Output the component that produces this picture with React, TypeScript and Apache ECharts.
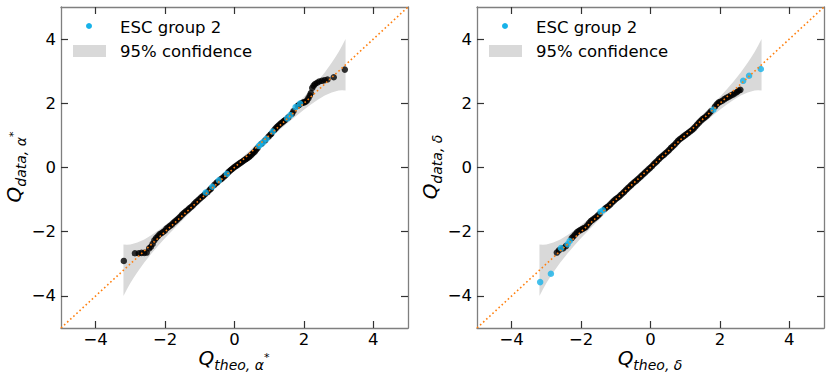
import React, { useEffect, useRef } from "react";
import * as echarts from "echarts";

const tickValues = [-4, -2, 0, 2, 4];
const diagonal = [[-5, -5], [5, 5]];

const bandX = [-3.2, -3.1, -3.0, -2.9, -2.8, -2.6, -2.4, -2.2, -2.0, -1.6, -1.2, -0.8, -0.4, 0, 0.4, 0.8, 1.2, 1.6, 2.0, 2.2, 2.4, 2.6, 2.8, 2.9, 3.0, 3.1, 3.2];
const bandUpper = [-2.4, -2.41, -2.4, -2.37, -2.34, -2.24, -2.11, -1.96, -1.8, -1.45, -1.08, -0.7, -0.31, 0.09, 0.49, 0.9, 1.32, 1.75, 2.2, 2.44, 2.69, 2.96, 3.26, 3.43, 3.6, 3.79, 4.0];
const bandLower = [-4.0, -3.79, -3.6, -3.43, -3.26, -2.96, -2.69, -2.44, -2.2, -1.75, -1.32, -0.9, -0.49, -0.09, 0.31, 0.7, 1.08, 1.45, 1.8, 1.96, 2.11, 2.24, 2.34, 2.37, 2.4, 2.41, 2.4];

const alphaBlack = [
  [-3.19, -2.91], [-2.87, -2.67], [-2.76, -2.67], [-2.68, -2.66], [-2.6, -2.66], [-2.53, -2.65], [-2.46, -2.52],
  [-2.41, -2.47], [-2.36, -2.38], [-2.31, -2.27], [-2.26, -2.2], [-2.21, -2.14], [-2.16, -2.08], [-2.11, -2.05],
  [-2.06, -2.01], [-2.01, -1.97], [-1.96, -1.9], [-1.91, -1.86], [-1.86, -1.82], [-1.81, -1.78], [-1.76, -1.72],
  [-1.71, -1.68], [-1.66, -1.63], [-1.61, -1.58], [-1.56, -1.53], [-1.51, -1.47], [-1.46, -1.42], [-1.41, -1.37],
  [-1.36, -1.33], [-1.31, -1.28], [-1.26, -1.24], [-1.21, -1.19], [-1.16, -1.13], [-1.11, -1.08], [-1.06, -1.03],
  [-1.01, -0.98], [-0.96, -0.93], [-0.91, -0.89], [-0.86, -0.84], [-0.78, -0.77], [-0.72, -0.7], [-0.68, -0.66],
  [-0.58, -0.54], [-0.52, -0.48], [-0.49, -0.45], [-0.4, -0.37], [-0.35, -0.33], [-0.3, -0.28], [-0.26, -0.24],
  [-0.18, -0.15], [-0.14, -0.11], [-0.1, -0.07], [-0.06, -0.04], [-0.02, 0.0], [0.02, 0.03], [0.06, 0.06],
  [0.1, 0.09], [0.14, 0.12], [0.18, 0.15], [0.22, 0.18], [0.26, 0.21], [0.3, 0.24], [0.34, 0.27], [0.38, 0.3],
  [0.42, 0.33], [0.46, 0.37], [0.5, 0.41], [0.54, 0.45], [0.58, 0.49], [0.62, 0.55], [0.66, 0.6], [0.78, 0.74],
  [0.88, 0.84], [0.98, 0.96], [1.03, 1.02], [1.06, 1.05], [1.14, 1.16], [1.18, 1.21], [1.22, 1.26], [1.26, 1.3],
  [1.3, 1.34], [1.34, 1.38], [1.38, 1.41], [1.42, 1.45], [1.46, 1.48], [1.55, 1.56], [1.66, 1.68], [1.7, 1.76],
  [1.82, 1.92], [1.86, 1.95], [1.93, 2.0], [1.97, 2.02], [2.01, 2.03], [2.05, 2.05], [2.09, 2.09], [2.13, 2.16],
  [2.17, 2.24], [2.2, 2.32], [2.24, 2.48], [2.28, 2.55], [2.32, 2.6], [2.38, 2.64], [2.44, 2.68], [2.52, 2.7],
  [2.6, 2.72], [2.68, 2.74], [2.86, 2.81], [3.18, 3.05],
];
const alphaBlue = [
  [-0.83, -0.78], [-0.64, -0.6], [-0.45, -0.4], [-0.22, -0.2], [0.7, 0.67], [0.75, 0.72], [0.83, 0.79],
  [0.92, 0.89], [1.1, 1.12], [1.52, 1.53], [1.61, 1.63], [1.76, 1.88], [1.89, 1.99],
];

const deltaBlack = [
  [-2.7, -2.65], [-2.64, -2.58], [-2.52, -2.52], [-2.44, -2.45], [-2.27, -2.2], [-2.22, -2.14], [-2.17, -2.08],
  [-2.12, -2.02], [-2.07, -1.98], [-2.02, -1.95], [-1.97, -1.92], [-1.92, -1.89], [-1.87, -1.86], [-1.82, -1.8],
  [-1.77, -1.73], [-1.72, -1.67], [-1.67, -1.63], [-1.62, -1.59], [-1.57, -1.55], [-1.52, -1.5], [-1.47, -1.45],
  [-1.31, -1.28], [-1.26, -1.24], [-1.21, -1.2], [-1.16, -1.15], [-1.11, -1.09], [-1.06, -1.04], [-1.01, -0.99],
  [-0.96, -0.95], [-0.91, -0.91], [-0.86, -0.86], [-0.81, -0.81], [-0.76, -0.76], [-0.71, -0.7], [-0.66, -0.65],
  [-0.61, -0.6], [-0.56, -0.55], [-0.51, -0.5], [-0.46, -0.45], [-0.41, -0.41], [-0.36, -0.36], [-0.31, -0.31],
  [-0.26, -0.26], [-0.21, -0.21], [-0.16, -0.16], [-0.11, -0.11], [-0.06, -0.06], [-0.01, -0.01], [0.04, 0.04],
  [0.09, 0.1], [0.14, 0.15], [0.19, 0.2], [0.24, 0.26], [0.29, 0.31], [0.34, 0.36], [0.39, 0.4], [0.44, 0.45],
  [0.49, 0.5], [0.54, 0.55], [0.59, 0.61], [0.64, 0.66], [0.69, 0.71], [0.74, 0.77], [0.79, 0.83], [0.84, 0.88],
  [0.89, 0.92], [0.94, 0.96], [0.99, 1.0], [1.04, 1.04], [1.09, 1.08], [1.14, 1.12], [1.19, 1.16], [1.24, 1.21],
  [1.29, 1.27], [1.34, 1.33], [1.39, 1.39], [1.44, 1.45], [1.49, 1.5], [1.54, 1.54], [1.59, 1.58], [1.64, 1.63],
  [1.69, 1.69], [1.74, 1.75], [1.86, 1.9], [1.91, 1.97], [1.96, 2.02], [2.01, 2.05], [2.07, 2.08], [2.13, 2.13],
  [2.19, 2.17], [2.25, 2.2], [2.31, 2.24], [2.37, 2.27], [2.43, 2.31], [2.49, 2.35], [2.54, 2.39], [2.59, 2.42],
];
const deltaBlue = [
  [-3.18, -3.57], [-2.87, -3.31], [-2.58, -2.51], [-2.39, -2.39], [-2.33, -2.29], [-1.44, -1.38], [-1.37, -1.33],
  [1.81, 1.8], [2.67, 2.7], [2.84, 2.86], [3.18, 3.07],
];

const FAMILY = "DejaVu Sans";
const BLUE = "#17b2e9";
const BAND = "#d9d9d9";
const TXT = 16.5;

function measure(text: string, size: number, italic: boolean): number {
  const c = document.createElement("canvas").getContext("2d");
  if (!c) return text.length * size * 0.6;
  c.font = `${italic ? "italic " : ""}${size}px "${FAMILY}"`;
  return c.measureText(text).width;
}

function mathLabel(sub: string, cx: number, cy: number, rotated: boolean, star: boolean) {
  const parts = [
    { t: "Q", s: 20, dy: 0 },
    { t: sub, s: 14, dy: 7 },
  ];
  if (star) parts.push({ t: "*", s: 11, dy: -1 });
  const widths = parts.map((p) => measure(p.t, p.s, true));
  const total = widths.reduce((a, b) => a + b, 0);
  let x = -total / 2;
  const children = parts.map((p, i) => {
    const el = {
      type: "text",
      x,
      y: p.dy,
      style: {
        text: p.t,
        fontSize: p.s,
        fontFamily: FAMILY,
        fontStyle: "italic",
        fill: "#000",
        align: "left",
        verticalAlign: "middle",
      },
    };
    x += widths[i];
    return el;
  });
  return { type: "group", x: cx, y: cy, rotation: rotated ? Math.PI / 2 : 0, children };
}

function legend(x0: number) {
  const ts = { fontSize: TXT, fontFamily: FAMILY, fill: "#000", align: "left", verticalAlign: "middle" };
  return [
    { type: "circle", shape: { cx: x0 + 16, cy: 26, r: 3 }, style: { fill: BLUE } },
    { type: "rect", shape: { x: x0, y: 45, width: 33, height: 12 }, style: { fill: BAND } },
    { type: "text", x: x0 + 47, y: 27, style: { ...ts, text: "ESC group 2" } },
    { type: "text", x: x0 + 47, y: 51, style: { ...ts, text: "95% confidence" } },
  ];
}

const lineStyleAxis = { color: "#7f7f7f", width: 1.3 };
const lineStyleTick = { color: "#333", width: 1.2 };
const fmt = (v: number) => (v < 0 ? "\u2212" + Math.abs(v) : String(v));

function xAxes(gridIndex: number) {
  const base = {
    type: "value", gridIndex, min: -5, max: 5,
    axisLine: { show: true, onZero: false, lineStyle: lineStyleAxis },
    axisTick: { show: true, inside: true, length: 7, customValues: tickValues, lineStyle: lineStyleTick },
    splitLine: { show: false },
  };
  return [
    { ...base, position: "bottom", axisLabel: { show: true, customValues: tickValues, formatter: fmt, fontSize: TXT, fontFamily: FAMILY, color: "#000", margin: 3 } },
    { ...base, position: "top", axisLabel: { show: false } },
  ];
}
function yAxes(gridIndex: number) {
  const base = {
    type: "value", gridIndex, min: -5, max: 5,
    axisLine: { show: true, onZero: false, lineStyle: lineStyleAxis },
    axisTick: { show: true, inside: true, length: 7, customValues: tickValues, lineStyle: lineStyleTick },
    splitLine: { show: false },
  };
  return [
    { ...base, position: "left", axisLabel: { show: true, customValues: tickValues, formatter: fmt, fontSize: TXT, fontFamily: FAMILY, color: "#000", margin: 5 } },
    { ...base, position: "right", axisLabel: { show: false } },
  ];
}

function panelSeries(axisIdx: number, black: number[][], blue: number[][]) {
  return [
    {
      type: "custom", xAxisIndex: axisIdx, yAxisIndex: axisIdx, data: [[0, 0]], z: 1, silent: true,
      renderItem: (_p: any, api: any) => {
        const pts: number[][] = bandX.map((x, i) => api.coord([x, bandUpper[i]]));
        for (let i = bandX.length - 1; i >= 0; i--) pts.push(api.coord([bandX[i], bandLower[i]]));
        return { type: "polygon", shape: { points: pts }, style: { fill: BAND } };
      },
    },
    { type: "scatter", xAxisIndex: axisIdx, yAxisIndex: axisIdx, data: black, symbolSize: 6.5, itemStyle: { color: "#000" }, z: 2, silent: true },
    { type: "scatter", name: "ESC group 2", xAxisIndex: axisIdx, yAxisIndex: axisIdx, data: blue, symbolSize: 6.5, itemStyle: { color: BLUE }, z: 3, silent: true },
    {
      type: "line", xAxisIndex: axisIdx, yAxisIndex: axisIdx, data: diagonal, symbol: "none", z: 4, silent: true,
      lineStyle: { color: "#ff7f0e", width: 1.6, type: [1.6, 2.6] },
    },
  ];
}

export default function App() {
  const ref = useRef<HTMLDivElement>(null);
  useEffect(() => {
    document.body.style.margin = "0";
    if (!ref.current) return;
    const chart = echarts.init(ref.current, null, { renderer: "svg" });
    chart.setOption({
      animation: false,
      backgroundColor: "#fff",
      grid: [
        { left: 61, top: 7, width: 347, height: 321 },
        { left: 477, top: 7, width: 347, height: 321 },
      ],
      xAxis: [...xAxes(0), ...xAxes(1)],
      yAxis: [...yAxes(0), ...yAxes(1)],
      series: [...panelSeries(0, alphaBlack, alphaBlue), ...panelSeries(2, deltaBlack, deltaBlue)],
      graphic: [
        ...legend(73),
        ...legend(489),
        mathLabel("theo, \u03b1", 234, 358, false, true),
        mathLabel("data, \u03b1", 14, 167, true, true),
        mathLabel("theo, \u03b4", 650, 358, false, false),
        mathLabel("data, \u03b4", 430, 167, true, false),
      ],
    });
    return () => chart.dispose();
  }, []);
  return <div ref={ref} style={{ width: 831, height: 381 }} />;
}
